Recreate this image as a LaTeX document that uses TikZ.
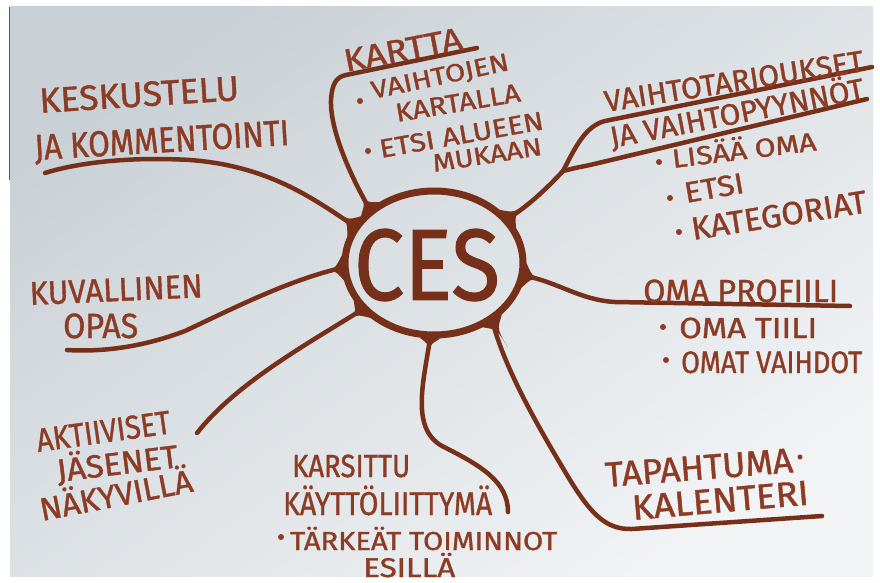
\documentclass[tikz,border=0pt]{standalone}
\usepackage{fontspec}
\usepackage{graphicx}
\usetikzlibrary{shapes.geometric,calc}
\newfontfamily\handfont{Fira Sans}[FakeBold=1.2]
\definecolor{ink}{RGB}{140,60,36}
\definecolor{inkdark}{RGB}{118,48,26}
\definecolor{papertop}{RGB}{202,209,214}
\definecolor{paperbottom}{RGB}{241,243,245}

% a line of marker lettering: width (pt), font size (pt), text
\newcommand\hw[3]{\resizebox{#1pt}{\height}{\fontsize{#2}{#2}\selectfont #3}}
% thickened joint where a branch leaves the hub: angle+, angle, angle-, tip
\newcommand\joint[4]{\fill[inkdark] (ces.#1) .. controls ($(ces.#2)!0.3!(#4)$) .. (#4)
  .. controls ($(ces.#2)!0.3!(#4)$) .. (ces.#3) -- cycle;}

\begin{document}
\begin{tikzpicture}[x=1pt,y=-1pt,
  hand/.style={font=\handfont, text=ink, inner sep=0pt, anchor=base west},
  branch/.style={draw=inkdark, line width=4.5pt, line cap=round, line join=round},
  bullet/.style={fill=ink}]
\useasboundingbox (0,0) rectangle (880,583);
\fill[white] (0,0) rectangle (880,583);
% sheet of paper
\shade[top color=papertop, bottom color=paperbottom, shading angle=35]
  (10,7) rectangle (873,576);
\draw[gray!70!black, line width=1pt] (9.5,7) -- (9.5,180);

% hub
\node[draw=inkdark, line width=7pt, ellipse, minimum width=178pt, minimum height=144pt,
      inner sep=0pt] (ces) at (434,263) {};
\node[font=\handfont, text=inkdark, inner sep=0pt] (cestext) at (427,265)
  {\hw{146}{101}{CES}};

% branches
\draw[branch] (ces.140) .. controls (350,175) and (330,130) .. (331,100)
  .. controls (332,84) and (336,77) .. (346,75) -- (477,48);
\draw[branch] (ces.31) .. controls (530,205) and (550,185) .. (563,171)
  .. controls (575,148) and (585,126) .. (605,121) -- (872,67);
\draw[branch] (563,171) .. controls (575,168) .. (590,165) -- (867,99);
\draw[branch] (ces.-8) .. controls (560,283) and (580,300) .. (615,302) -- (850,306);
\draw[branch] (ces.-45) .. controls (505,370) and (540,430) .. (570,480)
  .. controls (590,512) and (605,530) .. (632,529) -- (822,516);
\draw[branch] (ces.-93) .. controls (424,380) and (410,428) .. (442,446)
  .. controls (482,466) and (508,482) .. (508,512);
\draw[branch] (ces.213) .. controls (300,348) and (235,385) .. (197,433);
\draw[branch] (ces.183) .. controls (290,280) and (240,305) .. (185,331)
  .. controls (140,348) and (100,352) .. (67,350);
\draw[branch] (ces.155) .. controls (315,200) and (270,166) .. (190,160)
  .. controls (120,156) and (70,165) .. (45,173);

% joints
\joint{148}{140}{132}{356,187}
\joint{39}{31}{23}{530,200}
\joint{0}{-8}{-16}{550,281}
\joint{-37}{-45}{-53}{508,348}
\joint{-85}{-93}{-101}{428,360}
\joint{221}{213}{205}{343,324}
\joint{191}{183}{175}{318,274}
\joint{163}{155}{147}{332,208}

% KARTTA
\node[hand, rotate=11] (kartta) at (346,72) {\hw{120}{32}{KARTTA}};
\fill[bullet] (360,101) circle (3);
\node[hand, rotate=12] (kartta1) at (373,99) {\hw{140}{25}{VAIHTOJEN}};
\node[hand, rotate=9.5] (kartta2) at (397,122) {\hw{126}{26}{KARTALLA}};
\fill[bullet] (368,151) circle (3);
\node[hand, rotate=10] (kartta3) at (381,158) {\hw{166}{26}{ETSI ALUEEN}};
\node[hand, rotate=9] (kartta4) at (434,172) {\hw{110}{25}{MUKAAN}};

% KESKUSTELU
\node[hand, rotate=3.7] (kesk1) at (40,113) {\hw{200}{35}{KESKUSTELU}};
\node[hand, rotate=3.4] (kesk2) at (35,160) {\hw{255}{36}{JA KOMMENTOINTI}};

% KUVALLINEN OPAS
\node[hand, rotate=2.6] (kuva1) at (30,305) {\hw{173}{33}{KUVALLINEN}};
\node[hand] (kuva2) at (63,338) {\hw{75}{35}{OPAS}};

% AKTIIVISET
\node[hand, rotate=8] (akt1) at (38,452) {\hw{135}{33}{AKTIIVISET}};
\node[hand, rotate=7] (akt2) at (58,482) {\hw{122}{32}{JÄSENET}};
\node[hand, rotate=11] (akt3) at (42,521) {\hw{155}{32}{NÄKYVILLÄ}};

% KARSITTU
\node[hand] (kars1) at (292,477) {\hw{118}{32}{KARSITTU}};
\node[hand] (kars2) at (283,515) {\hw{209}{33}{KÄYTTÖLIITTYMÄ}};
\fill[bullet] (281,537) circle (3);
\node[hand] (kars3) at (290,550) {\hw{267}{26}{TÄRKEÄT TOIMINNOT}};
\node[hand] (kars4) at (363,577) {\hw{92}{27}{ESILLÄ}};

% TAPAHTUMAKALENTERI
\node[hand, rotate=4.5] (tap1) at (606,487) {\hw{188}{35}{TAPAHTUMA}};
\fill[bullet] (800,457) circle (2.5);
\node[hand, rotate=5] (tap2) at (633,520) {\hw{177}{35}{KALENTERI}};

% OMA PROFIILI
\node[hand] (oma) at (643,302) {\hw{195}{32}{OMA PROFIILI}};
\fill[bullet] (663,327) circle (3);
\node[hand] (oma1) at (679,338) {\hw{138}{29}{OMA TIILI}};
\fill[bullet] (666,360) circle (3);
\node[hand] (oma2) at (681,373) {\hw{181}{31}{OMAT VAIHDOT}};

% VAIHTOTARJOUKSET
\node[hand, rotate=9] (vt1) at (606,112) {\hw{262}{30}{VAIHTOTARJOUKSET}};
\node[hand, rotate=11] (vt2) at (612,148) {\hw{258}{30}{JA VAIHTOPYYNNÖT}};
\fill[bullet] (659,162) circle (3);
\node[hand, rotate=7] (vt3) at (673,168) {\hw{145}{26}{LISÄÄ OMA}};
\fill[bullet] (670,198) circle (3);
\node[hand, rotate=10] (vt4) at (686,203) {\hw{60}{29}{ETSI}};
\fill[bullet] (679,232) circle (3);
\node[hand, rotate=9] (vt5) at (693,240) {\hw{177}{32}{KATEGORIAT}};
\end{tikzpicture}
\end{document}
